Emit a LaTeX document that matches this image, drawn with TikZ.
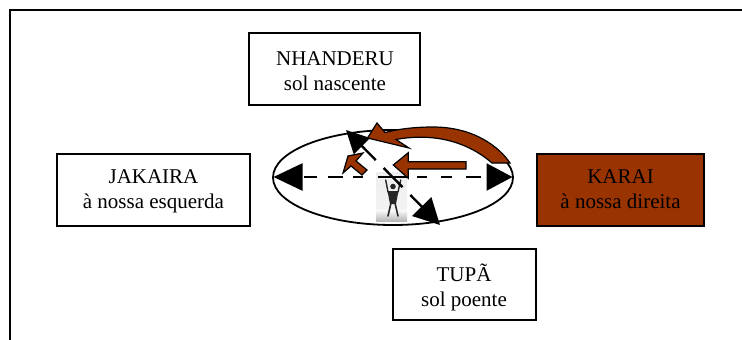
\documentclass[tikz,border=0pt]{standalone}
\usepackage{fontspec}
\setmainfont{Liberation Serif}
\usetikzlibrary{arrows.meta,shapes.geometric}
\definecolor{brownred}{HTML}{993300}
\tikzset{
  px/.style={x=1pt,y=-1pt},
  boxnode/.style={draw=black,line width=1.6pt,inner sep=0pt,fill=white},
  lab/.style={inner sep=0pt,align=center,font=\fontsize{21}{25}\selectfont},
  axisline/.style={line width=2.4pt,black},
  brownarrow/.style={draw=black,line width=1.2pt,fill=brownred,line join=miter},
  figure part/.style={draw=black!85,line cap=round,line join=round}
}
\begin{document}
\begin{tikzpicture}[px]
\useasboundingbox (0,0) rectangle (742,340);
\fill[white] (0,0) rectangle (742,340);
% outer frame, open at right and bottom
\draw[line width=2pt,black] (9.5,341) -- (9.5,10) -- (743,10);
% boxes
\node[boxnode,minimum width=171pt,minimum height=72pt] (nh) at (334.5,69) {};
\node[boxnode,minimum width=193pt,minimum height=72pt] (ja) at (153.5,190) {};
\node[boxnode,minimum width=167pt,minimum height=72pt,fill=brownred] (ka) at (620.5,190) {};
\node[boxnode,minimum width=143pt,minimum height=71pt] (tu) at (464.5,284.5) {};
\node[lab] (nht) at (335,72.5) {\strut NHANDERU\\\strut sol nascente};
\node[lab] (jat) at (153.5,190.5) {\strut JAKAIRA\\\strut à nossa esquerda};
\node[lab] (kat) at (620.5,190.5) {\strut KARAI\\\strut à nossa direita};
\node[lab] (tut) at (464,289) {\strut TUPÃ\\\strut sol poente};
% ellipse
\node[draw=black,line width=1.8pt,fill=white,ellipse,minimum width=240pt,minimum height=95pt,inner sep=0pt] (el) at (393,177.5) {};
% person picture
\shade[top color=black!7,middle color=black!2,bottom color=black!4] (376,172) rectangle (407,221);
\shade[top color=black!2,bottom color=black!28] (376,210) rectangle (407,221);
\fill[black!85] (393,186.5) circle (2.8pt);
\fill[black!85] (387.5,191) -- (398.5,191) -- (396,204) -- (390,204) -- cycle;
\draw[figure part,line width=1.4pt] (388,192) -- (385.7,180);
\draw[figure part,line width=1.4pt] (398,192) -- (400.7,180);
\draw[figure part,line width=1.6pt] (391,203) -- (388,216);
\draw[figure part,line width=1.6pt] (395,203) -- (398,216);
% axes
\coordinate (L) at (273.5,177);
\coordinate (R) at (512.5,177);
\coordinate (A) at (346,130);
\coordinate (B) at (440,225);
\draw[axisline,dash pattern=on 0pt off 2.5pt on 13pt off 10.5pt on 15pt off 10.5pt on 10pt off 15pt on 29pt off 10pt on 10pt off 14pt on 11pt off 14pt on 15pt off 20pt,
  {Triangle[length=29pt,width=27pt,fill=black]}-{Triangle[length=26pt,width=27pt,fill=black]}] (L) -- (R);
\draw[axisline,dash pattern=on 27pt off 11pt,dash phase=6.7pt,
  {Triangle[length=22.7pt,width=22.5pt,fill=black]}-{Triangle[length=26pt,width=26.5pt,fill=black]}] (A) -- (B);
% brown arrows
\draw[brownarrow] (510,163) .. controls (500,148) and (475,127) .. (433,127)
  .. controls (415,127) and (398,129) .. (385,132.5) -- (377,123) -- (367.5,138) -- (409,148) -- (396,139.5)
  .. controls (425,134) and (462,137) .. (492,163) -- cycle;
\draw[brownarrow] (466,161.7) -- (408.3,161.7) -- (408.3,152.7) -- (393.3,165) -- (408.3,178.3) -- (408.3,169) -- (466,169) -- cycle;
\draw[brownarrow] (367,170) -- (356,161) -- (363,153) -- (348,156) -- (343,173) -- (351,166) -- (362,175) -- cycle;
\end{tikzpicture}
\end{document}
